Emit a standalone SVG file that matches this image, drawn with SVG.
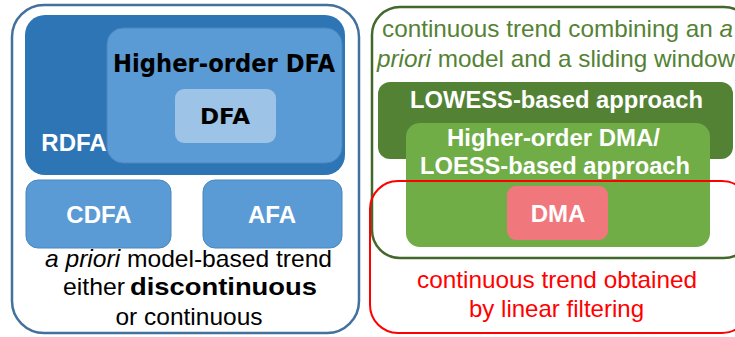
<svg xmlns="http://www.w3.org/2000/svg" width="735" height="337" viewBox="0 0 735 337">
<style>
text{font-family:"Liberation Sans",Arial,sans-serif;}
.w{fill:#fff;font-weight:bold;font-size:24px;text-anchor:middle;}
.blk{fill:#000;font-size:24px;text-anchor:middle;}
.deco{font-family:"DejaVu Sans",sans-serif;font-weight:bold;fill:#000;text-anchor:middle;}
.g{fill:#548235;font-size:24px;}
.r{fill:#ff0000;font-size:24px;text-anchor:middle;}
</style>
<rect width="735" height="337" fill="#fff"/>
<g id="left-group">
<rect x="12" y="5" width="347" height="328" rx="32" fill="#fff" stroke="#41719C" stroke-width="2.5"/>
</g>
<g id="RDFA">
<rect x="25" y="15" width="320" height="160" rx="20" fill="#2E75B6"/>
<text class="w" x="74" y="151">RDFA</text>
</g>
<g id="HigherOrderDFA">
<rect x="107" y="28" width="235" height="135" rx="16" fill="#5B9BD5" stroke="#4A86BE" stroke-width="1"/>
<text class="deco" x="224" y="72" font-size="25" textLength="222" lengthAdjust="spacingAndGlyphs">Higher-order DFA</text>
</g>
<g id="DFA">
<rect x="175" y="89" width="101" height="54" rx="9" fill="#9DC3E6"/>
<text class="deco" x="225" y="124" font-size="22" textLength="50" lengthAdjust="spacingAndGlyphs">DFA</text>
</g>
<g id="CDFA">
<rect x="26" y="180" width="145" height="68" rx="12" fill="#5B9BD5" stroke="#4A86BE" stroke-width="1"/>
<text class="w" x="99" y="223">CDFA</text>
</g>
<g id="AFA">
<rect x="203" y="180" width="139" height="68" rx="12" fill="#5B9BD5" stroke="#4A86BE" stroke-width="1"/>
<text class="w" x="272" y="223">AFA</text>
</g>
<g id="left-labels">
<text class="blk" x="188.5" y="267" textLength="287" lengthAdjust="spacingAndGlyphs"><tspan font-style="italic">a priori</tspan> model-based trend</text>
<text x="63" y="295" font-size="24" fill="#000" textLength="62" lengthAdjust="spacingAndGlyphs">either</text>
<text x="130" y="295" font-size="24" fill="#000" font-family="DejaVu Sans,sans-serif" font-weight="bold" textLength="187" lengthAdjust="spacingAndGlyphs">discontinuous</text>
<text class="blk" x="189" y="325" textLength="147" lengthAdjust="spacingAndGlyphs">or continuous</text>
</g>
<g id="green-group">
<rect x="372" y="7" width="380" height="251" rx="28" fill="none" stroke="#43682B" stroke-width="2.5"/>
<text class="g" x="382" y="37" textLength="351" lengthAdjust="spacingAndGlyphs">continuous trend combining an <tspan font-style="italic">a</tspan></text>
<text class="g" x="377" y="67" textLength="358" lengthAdjust="spacingAndGlyphs"><tspan font-style="italic">priori</tspan> model and a sliding window</text>
</g>
<g id="LOWESS">
<rect x="378" y="82" width="355" height="77" rx="12" fill="#548235"/>
<text class="w" x="556.5" y="108" textLength="293" lengthAdjust="spacingAndGlyphs">LOWESS-based approach</text>
</g>
<g id="HigherOrderDMA">
<rect x="406" y="123" width="304" height="124" rx="14" fill="#70AD47"/>
<text class="w" x="553.5" y="146" textLength="213" lengthAdjust="spacingAndGlyphs">Higher-order DMA/</text>
<text class="w" x="555" y="174" textLength="270" lengthAdjust="spacingAndGlyphs">LOESS-based approach</text>
</g>
<g id="red-group">
<rect x="370" y="181" width="380" height="152" rx="28" fill="none" stroke="#FF0000" stroke-width="2"/>
<text class="r" x="557" y="288" textLength="280" lengthAdjust="spacingAndGlyphs">continuous trend obtained</text>
<text class="r" x="556.5" y="317" textLength="175" lengthAdjust="spacingAndGlyphs">by linear filtering</text>
</g>
<g id="DMA">
<rect x="507" y="186" width="101" height="54" rx="9" fill="#F0787C"/>
<text class="w" x="558" y="222">DMA</text>
</g>
<g id="connectors"></g>
</svg>
